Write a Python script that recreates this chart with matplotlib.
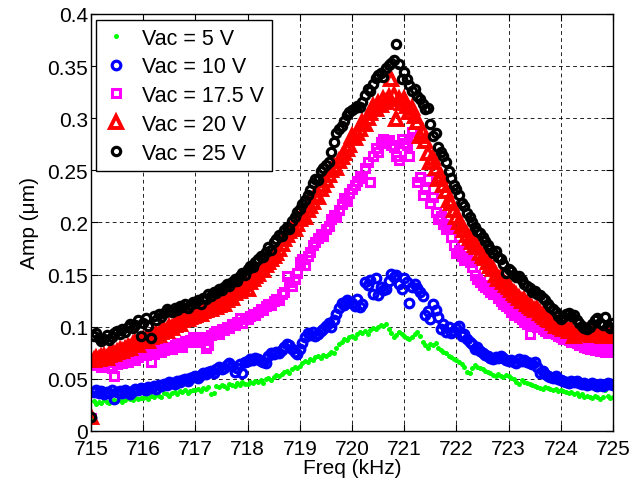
import numpy as np
import matplotlib

matplotlib.use("Agg")
import matplotlib.pyplot as plt  # noqa: E402

plt.rcParams["font.family"] = ["Liberation Sans", "DejaVu Sans"]

# sweep frequency (kHz), 0.05 kHz step
freq = np.linspace(715.0, 725.0, 201)

# amplitude (um)
amp_5v = [
    0.012,
    0.029, 0.026, 0.028, 0.027, 0.030, 0.028, 0.027, 0.029, 0.030, 0.029, 0.031, 0.028, 0.030, 0.032, 0.031, 0.030, 0.033, 0.031, 0.032,
    0.032, 0.033, 0.031, 0.034, 0.033, 0.035, 0.034, 0.033, 0.036, 0.035, 0.034, 0.036, 0.037, 0.035, 0.038, 0.037, 0.039, 0.036, 0.038, 0.039,
    0.039, 0.040, 0.038, 0.041, 0.040, 0.042, 0.035, 0.036, 0.043, 0.042, 0.044, 0.043, 0.041, 0.045, 0.044, 0.043, 0.046, 0.044, 0.047, 0.045,
    0.045, 0.047, 0.046, 0.048, 0.047, 0.049, 0.046, 0.050, 0.051, 0.049, 0.052, 0.054, 0.053, 0.055, 0.057, 0.058, 0.056, 0.059, 0.061, 0.060,
    0.062, 0.065, 0.067, 0.066, 0.069, 0.068, 0.071, 0.072, 0.070, 0.073, 0.072, 0.074, 0.076, 0.075, 0.080, 0.083, 0.085, 0.088, 0.087, 0.090,
    0.091, 0.089, 0.093, 0.095, 0.094, 0.096, 0.093, 0.097, 0.099, 0.098, 0.100, 0.102, 0.101, 0.103, 0.098, 0.094, 0.090, 0.092, 0.095, 0.093,
    0.091, 0.089, 0.088, 0.090, 0.093, 0.095, 0.091, 0.085, 0.082, 0.080, 0.083, 0.082, 0.084, 0.080, 0.078, 0.076, 0.075, 0.072, 0.071, 0.069,
    0.068, 0.066, 0.064, 0.061, 0.057, 0.056, 0.060, 0.063, 0.061, 0.060, 0.059, 0.058, 0.057, 0.056, 0.054, 0.053, 0.055, 0.053, 0.052, 0.054,
    0.053, 0.051, 0.050, 0.047, 0.045, 0.049, 0.047, 0.046, 0.045, 0.044, 0.043, 0.042, 0.041, 0.040, 0.042, 0.041, 0.040, 0.039, 0.040, 0.038,
    0.039, 0.038, 0.037, 0.036, 0.037, 0.035, 0.036, 0.034, 0.035, 0.033, 0.034, 0.033, 0.032, 0.034, 0.033, 0.031, 0.033, 0.039, 0.034, 0.032,
    0.033,
]

amp_10v = [
    0.012,
    0.037, 0.039, 0.036, 0.038, 0.035, 0.037, 0.036, 0.039, 0.031, 0.037, 0.038, 0.036, 0.039, 0.037, 0.035, 0.038, 0.040, 0.039, 0.041,
    0.040, 0.039, 0.042, 0.041, 0.043, 0.040, 0.044, 0.043, 0.045, 0.044, 0.047, 0.046, 0.045, 0.048, 0.047, 0.049, 0.050, 0.048, 0.051, 0.052,
    0.053, 0.051, 0.054, 0.056, 0.055, 0.057, 0.058, 0.056, 0.059, 0.061, 0.059, 0.060, 0.063, 0.065, 0.062, 0.057, 0.060, 0.064, 0.056, 0.066,
    0.067, 0.069, 0.068, 0.070, 0.069, 0.067, 0.066, 0.065, 0.072, 0.075, 0.074, 0.076, 0.075, 0.078, 0.081, 0.083, 0.082, 0.079, 0.076, 0.074,
    0.079, 0.084, 0.090, 0.094, 0.092, 0.095, 0.091, 0.093, 0.096, 0.098, 0.101, 0.104, 0.100, 0.106, 0.112, 0.118, 0.123, 0.121, 0.126, 0.124,
    0.123, 0.120, 0.127, 0.119, 0.122, 0.143, 0.140, 0.145, 0.131, 0.147, 0.130, 0.138, 0.135, 0.136, 0.144, 0.151, 0.148, 0.150, 0.141, 0.136,
    0.147, 0.143, 0.123, 0.138, 0.141, 0.137, 0.133, 0.129, 0.111, 0.115, 0.107, 0.122, 0.116, 0.109, 0.098, 0.103, 0.095, 0.100, 0.094, 0.096,
    0.099, 0.101, 0.091, 0.093, 0.088, 0.085, 0.083, 0.079, 0.081, 0.077, 0.075, 0.073, 0.072, 0.070, 0.069, 0.071, 0.070, 0.072, 0.070, 0.068,
    0.067, 0.068, 0.066, 0.065, 0.069, 0.067, 0.068, 0.066, 0.065, 0.064, 0.066, 0.061, 0.056, 0.058, 0.055, 0.053, 0.052, 0.051, 0.053, 0.050,
    0.049, 0.048, 0.047, 0.046, 0.048, 0.047, 0.048, 0.046, 0.045, 0.046, 0.044, 0.045, 0.046, 0.044, 0.043, 0.045, 0.043, 0.044, 0.046, 0.045,
    0.044,
]

amp_17v5 = [
    0.012,
    0.066, 0.063, 0.068, 0.061, 0.064, 0.066, 0.062, 0.060, 0.053, 0.064, 0.067, 0.065, 0.069, 0.066, 0.070, 0.072, 0.068, 0.071, 0.074,
    0.075, 0.073, 0.076, 0.066, 0.074, 0.077, 0.079, 0.076, 0.078, 0.081, 0.080, 0.079, 0.082, 0.084, 0.083, 0.081, 0.086, 0.085, 0.087, 0.090,
    0.085, 0.088, 0.090, 0.087, 0.080, 0.082, 0.092, 0.094, 0.096, 0.093, 0.098, 0.097, 0.100, 0.099, 0.103, 0.102, 0.105, 0.108, 0.104, 0.107,
    0.107, 0.110, 0.112, 0.111, 0.114, 0.117, 0.116, 0.120, 0.122, 0.121, 0.125, 0.127, 0.126, 0.131, 0.133, 0.149, 0.143, 0.139, 0.146, 0.152,
    0.162, 0.165, 0.159, 0.168, 0.172, 0.178, 0.181, 0.185, 0.189, 0.187, 0.194, 0.197, 0.203, 0.207, 0.205, 0.212, 0.218, 0.223, 0.221, 0.228,
    0.232, 0.236, 0.240, 0.245, 0.243, 0.252, 0.258, 0.239, 0.264, 0.271, 0.268, 0.277, 0.280, 0.276, 0.279, 0.274, 0.272, 0.264, 0.260, 0.280,
    0.276, 0.274, 0.264, 0.287, 0.282, 0.239, 0.244, 0.226, 0.232, 0.242, 0.219, 0.224, 0.210, 0.203, 0.206, 0.199, 0.194, 0.196, 0.186, 0.178,
    0.171, 0.174, 0.168, 0.164, 0.166, 0.162, 0.157, 0.150, 0.146, 0.143, 0.140, 0.138, 0.136, 0.133, 0.131, 0.134, 0.128, 0.125, 0.122, 0.120,
    0.118, 0.114, 0.111, 0.113, 0.109, 0.107, 0.105, 0.103, 0.093, 0.104, 0.101, 0.100, 0.104, 0.098, 0.096, 0.094, 0.097, 0.095, 0.093, 0.091,
    0.090, 0.088, 0.089, 0.087, 0.085, 0.086, 0.084, 0.082, 0.083, 0.081, 0.080, 0.079, 0.081, 0.078, 0.080, 0.077, 0.078, 0.076, 0.079, 0.077,
    0.076,
]

amp_20v = [
    0.013,
    0.068, 0.070, 0.069, 0.071, 0.072, 0.070, 0.073, 0.075, 0.074, 0.076, 0.078, 0.077, 0.079, 0.081, 0.080, 0.083, 0.084, 0.082, 0.086,
    0.087, 0.088, 0.086, 0.090, 0.091, 0.093, 0.092, 0.095, 0.097, 0.096, 0.100, 0.099, 0.102, 0.104, 0.103, 0.106, 0.108, 0.107, 0.109, 0.110,
    0.111, 0.113, 0.112, 0.115, 0.116, 0.118, 0.117, 0.120, 0.119, 0.121, 0.123, 0.122, 0.126, 0.129, 0.128, 0.132, 0.135, 0.134, 0.138, 0.141,
    0.136, 0.143, 0.146, 0.149, 0.151, 0.155, 0.154, 0.159, 0.162, 0.165, 0.168, 0.171, 0.175, 0.179, 0.184, 0.188, 0.192, 0.195, 0.194, 0.199,
    0.203, 0.207, 0.205, 0.212, 0.216, 0.220, 0.226, 0.224, 0.232, 0.236, 0.241, 0.246, 0.250, 0.254, 0.252, 0.259, 0.263, 0.267, 0.270, 0.274,
    0.283, 0.281, 0.286, 0.290, 0.296, 0.294, 0.300, 0.305, 0.312, 0.309, 0.315, 0.313, 0.318, 0.316, 0.320, 0.338, 0.322, 0.299, 0.318, 0.315,
    0.318, 0.312, 0.306, 0.310, 0.302, 0.296, 0.283, 0.287, 0.278, 0.267, 0.258, 0.262, 0.252, 0.242, 0.245, 0.236, 0.230, 0.222, 0.219, 0.212,
    0.205, 0.200, 0.197, 0.193, 0.188, 0.185, 0.181, 0.178, 0.176, 0.171, 0.168, 0.166, 0.162, 0.158, 0.155, 0.150, 0.146, 0.148, 0.143, 0.140,
    0.138, 0.135, 0.132, 0.130, 0.128, 0.125, 0.126, 0.122, 0.120, 0.118, 0.116, 0.117, 0.113, 0.111, 0.109, 0.107, 0.106, 0.104, 0.101, 0.103,
    0.100, 0.098, 0.099, 0.096, 0.097, 0.091, 0.095, 0.094, 0.096, 0.093, 0.095, 0.094, 0.092, 0.096, 0.094, 0.093, 0.091, 0.094, 0.092, 0.093,
    0.091,
]

amp_25v = [
    0.013,
    0.091, 0.094, 0.089, 0.086, 0.088, 0.092, 0.087, 0.090, 0.094, 0.096, 0.093, 0.098, 0.095, 0.100, 0.103, 0.099, 0.102, 0.106, 0.091,
    0.104, 0.108, 0.101, 0.089, 0.110, 0.106, 0.112, 0.109, 0.113, 0.117, 0.115, 0.114, 0.118, 0.116, 0.120, 0.119, 0.122, 0.118, 0.121, 0.124,
    0.123, 0.126, 0.122, 0.128, 0.127, 0.131, 0.129, 0.133, 0.132, 0.136, 0.135, 0.138, 0.141, 0.139, 0.143, 0.146, 0.144, 0.149, 0.152, 0.150,
    0.155, 0.158, 0.157, 0.162, 0.165, 0.168, 0.167, 0.172, 0.176, 0.174, 0.181, 0.184, 0.188, 0.187, 0.193, 0.196, 0.194, 0.201, 0.205, 0.210,
    0.213, 0.218, 0.222, 0.226, 0.231, 0.238, 0.242, 0.241, 0.249, 0.252, 0.255, 0.258, 0.268, 0.277, 0.286, 0.290, 0.293, 0.297, 0.303, 0.306,
    0.308, 0.310, 0.312, 0.311, 0.316, 0.322, 0.328, 0.326, 0.333, 0.339, 0.341, 0.343, 0.340, 0.348, 0.351, 0.353, 0.356, 0.371, 0.352, 0.338,
    0.344, 0.338, 0.332, 0.326, 0.328, 0.321, 0.318, 0.314, 0.309, 0.310, 0.294, 0.283, 0.286, 0.272, 0.268, 0.264, 0.258, 0.249, 0.243, 0.236,
    0.232, 0.226, 0.219, 0.216, 0.209, 0.205, 0.200, 0.196, 0.192, 0.190, 0.186, 0.182, 0.178, 0.175, 0.171, 0.173, 0.167, 0.165, 0.160, 0.152,
    0.155, 0.153, 0.150, 0.148, 0.149, 0.145, 0.141, 0.139, 0.137, 0.133, 0.134, 0.131, 0.130, 0.128, 0.126, 0.122, 0.119, 0.117, 0.114, 0.110,
    0.107, 0.109, 0.112, 0.113, 0.110, 0.111, 0.106, 0.104, 0.101, 0.099, 0.098, 0.100, 0.103, 0.106, 0.108, 0.104, 0.102, 0.109, 0.101, 0.099,
    0.104,
]

labels = ["Vac = 5 V", "Vac = 10 V", "Vac = 17.5 V", "Vac = 20 V", "Vac = 25 V"]

fig = plt.figure(figsize=(6.34, 4.89), dpi=100)
ax = fig.add_axes([0.1435, 0.1166, 0.8235, 0.8528])

ax.plot(freq, amp_5v, ls="none", marker="o", ms=3.6, mfc="#00ff00", mec="none", label=labels[0])
ax.plot(freq, amp_10v, ls="none", marker="o", ms=6.2, mfc="none", mec="#0000ff", mew=2.3, label=labels[1])
ax.plot(freq, amp_17v5, ls="none", marker="s", ms=5.8, mfc="none", mec="#ff00ff", mew=2.2, label=labels[2])
ax.plot(freq, amp_20v, ls="none", marker="^", ms=9.0, mfc="none", mec="#ff0000", mew=2.8, label=labels[3])
ax.plot(freq, amp_25v, ls="none", marker="o", ms=6.0, mfc="none", mec="#000000", mew=2.3, label=labels[4])

ax.set_xlim(715, 725)
ax.set_ylim(0, 0.4)
ax.set_xticks(np.arange(715, 726, 1))
ax.set_yticks([0, 0.05, 0.1, 0.15, 0.2, 0.25, 0.3, 0.35, 0.4])
ax.set_yticklabels(["0", "0.05", "0.1", "0.15", "0.2", "0.25", "0.3", "0.35", "0.4"])
ax.tick_params(direction="in", length=5, width=0.8, top=True, right=True, labelsize=15, pad=2)
ax.tick_params(axis="x", pad=6)
ax.grid(True, color="k", lw=0.6, ls=(0, (4.5, 4)))
for sp in ax.spines.values():
    sp.set_linewidth(1.0)

ax.set_xlabel("Freq (kHz)", fontsize=15, labelpad=0)
ax.set_ylabel("Amp (\u03bcm)", fontsize=15, labelpad=6)

leg = ax.legend(loc="upper left", bbox_to_anchor=(0.0096, 0.9856), borderaxespad=0, fontsize=15.5,
                frameon=True, fancybox=False, edgecolor="k", framealpha=1, handlelength=1.2,
                handletextpad=0.6, labelspacing=0.36, borderpad=0.35, numpoints=1)
leg.get_frame().set_linewidth(1.0)

fig.savefig("out.png", dpi=100)
